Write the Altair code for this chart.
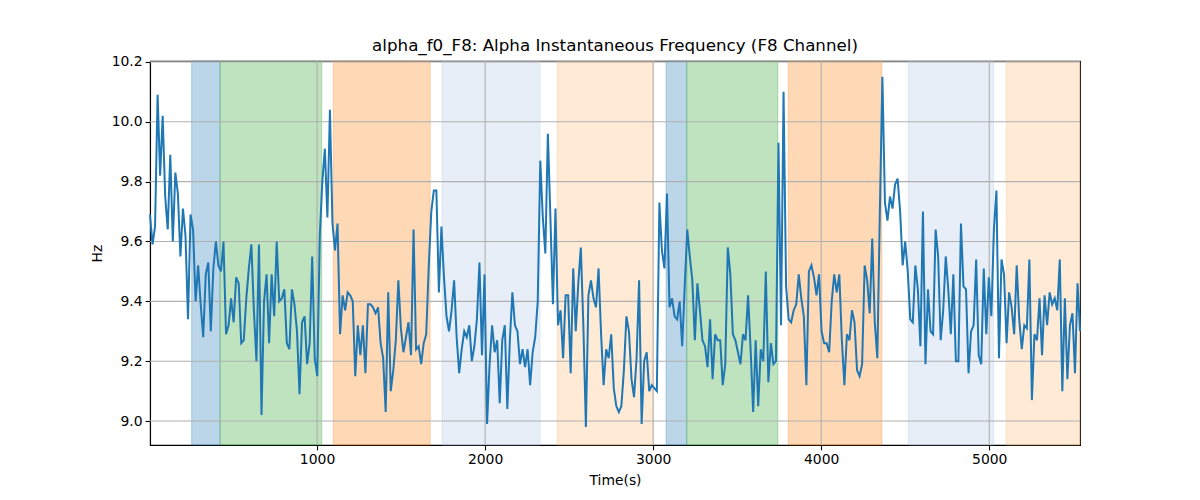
import altair as alt
import pandas as pd

# ---- data ----
start_time = 6.0
time_step = 15.08

alpha_freq = [
    9.69, 9.59, 9.65, 10.09, 9.82, 10.02, 9.75, 9.64, 9.89, 9.60,
    9.83, 9.76, 9.55, 9.71, 9.62, 9.34, 9.69, 9.64, 9.40, 9.52,
    9.39, 9.28, 9.49, 9.53, 9.30, 9.51, 9.60, 9.52, 9.50, 9.60,
    9.29, 9.32, 9.41, 9.33, 9.48, 9.46, 9.26, 9.27, 9.41, 9.51,
    9.59, 9.37, 9.20, 9.59, 9.02, 9.40, 9.49, 9.26, 9.49, 9.35,
    9.60, 9.40,
    9.41, 9.44, 9.26, 9.24, 9.44, 9.39, 9.30, 9.09, 9.33, 9.35,
    9.19, 9.26, 9.55, 9.21, 9.15, 9.62, 9.80, 9.91, 9.68, 10.04,
    9.66, 9.57, 9.66, 9.29, 9.42, 9.37, 9.43, 9.42, 9.40, 9.15,
    9.32, 9.22, 9.32, 9.16, 9.39, 9.39, 9.38, 9.36, 9.38, 9.26,
    9.21, 9.03, 9.43, 9.10, 9.17, 9.27, 9.47, 9.31, 9.23, 9.28,
    9.33, 9.22, 9.64,
    9.24, 9.25, 9.19, 9.26, 9.29, 9.52, 9.70, 9.77, 9.77, 9.43,
    9.65, 9.48, 9.35, 9.30, 9.37, 9.47, 9.28, 9.16, 9.24, 9.30,
    9.28, 9.32, 9.20, 9.25, 9.34, 9.53, 9.22, 9.49, 8.99, 9.19,
    9.32, 9.23, 9.27, 9.06, 9.27, 9.32, 9.04, 9.27, 9.43, 9.32,
    9.30, 9.19, 9.24, 9.18, 9.24, 9.12, 9.23, 9.28, 9.40, 9.87,
    9.68, 9.56, 9.96,
    9.68, 9.39, 9.71, 9.32, 9.37, 9.21, 9.42, 9.42, 9.16, 9.51,
    9.30, 9.46, 9.58, 9.32, 8.98, 9.42, 9.47, 9.41, 9.38, 9.51,
    9.29, 9.12, 9.24, 9.21, 9.29, 9.11, 9.05, 9.03, 9.05, 9.17,
    9.35, 9.30, 9.14, 9.08, 9.21, 9.47, 8.99, 9.20, 9.23, 9.10,
    9.12, 9.11, 9.10, 9.73, 9.57, 9.51, 9.76, 9.38, 9.41, 9.35,
    9.34, 9.40, 9.25,
    9.45, 9.64, 9.55, 9.47, 9.27, 9.46, 9.37, 9.27, 9.25, 9.18,
    9.34, 9.14, 9.29, 9.27, 9.27, 9.12, 9.19, 9.58, 9.49, 9.29,
    9.27, 9.23, 9.19, 9.29, 9.27, 9.42, 9.24, 9.03, 9.27, 9.05,
    9.24, 9.20, 9.50, 9.13, 9.26, 9.19, 9.20, 9.93, 9.32, 10.10,
    9.45, 9.34, 9.33, 9.37, 9.39, 9.49, 9.41, 9.35, 9.12, 9.50,
    9.52, 9.48, 9.42,
    9.49, 9.30, 9.26, 9.26, 9.23, 9.40, 9.49, 9.43, 9.49, 9.27,
    9.12, 9.29, 9.27, 9.37, 9.33, 9.17, 9.15, 9.19, 9.52, 9.47,
    9.36, 9.61, 9.33, 9.21, 9.70, 10.15, 9.73, 9.67, 9.75, 9.71,
    9.79, 9.81, 9.70, 9.52, 9.60, 9.50, 9.34, 9.33, 9.52, 9.44,
    9.25, 9.70, 9.19, 9.44, 9.30, 9.29, 9.64, 9.55, 9.27, 9.37,
    9.55, 9.44, 9.29,
    9.49, 9.20, 9.20, 9.66, 9.45, 9.44, 9.16, 9.30, 9.32, 9.54,
    9.22, 9.19, 9.51, 9.29, 9.48, 9.35, 9.64, 9.77, 9.21, 9.54,
    9.49, 9.26, 9.43, 9.38, 9.29, 9.52, 9.34, 9.24, 9.32, 9.31,
    9.54, 9.07, 9.29, 9.27, 9.41, 9.22, 9.42, 9.32, 9.43, 9.39,
    9.41, 9.37, 9.54, 9.10, 9.41, 9.14, 9.32, 9.36, 9.16, 9.46,
    9.30,
]
times = [start_time + i * time_step for i in range(len(alpha_freq))]

span_starts = [254, 423, 1097, 1744, 2429, 3077, 3200, 3804, 4518, 5101]
span_ends = [423, 1028, 1673, 2327, 3000, 3200, 3742, 4361, 5026, 5540]
span_kinds = ["A", "B", "C", "D", "E", "A", "B", "C", "D", "E"]

x_ticks = [1000, 2000, 3000, 4000, 5000]
y_ticks = [9.0, 9.2, 9.4, 9.6, 9.8, 10.0, 10.2]

x_domain = [6, 5540]
y_domain = [8.92, 10.203]

# ---- tables ----
line_df = pd.DataFrame({"t": times, "hz": alpha_freq})
span_df = pd.DataFrame({"t": span_starts, "end": span_ends, "kind": span_kinds})
xg_df = pd.DataFrame({"t": x_ticks})
yg_df = pd.DataFrame({"hz": y_ticks})

FONT = "DejaVu Sans"
xscale = alt.Scale(domain=x_domain, nice=False, zero=False)
yscale = alt.Scale(domain=y_domain, nice=False, zero=False)
x_axis = alt.Axis(values=x_ticks, format="d", title="Time(s)", grid=False, titlePadding=7)
y_axis = alt.Axis(values=y_ticks, format=".1f", title="Hz", grid=False, titlePadding=7)
span_scale = alt.Scale(
    domain=["A", "B", "C", "D", "E"],
    range=["#1f77b4", "#2ca02c", "#ff7f0e", "#aec7e8", "#ffbb78"],
)

spans = alt.Chart(span_df).mark_rect(fillOpacity=0.3, strokeOpacity=0.3, strokeWidth=1).encode(
    x=alt.X("t:Q", scale=xscale, axis=x_axis),
    x2="end:Q",
    fill=alt.Fill("kind:N", scale=span_scale, legend=None),
    stroke=alt.Stroke("kind:N", scale=span_scale, legend=None),
)

xgrid = alt.Chart(xg_df).mark_rule(color="#b0b0b0", strokeWidth=1.1).encode(
    x=alt.X("t:Q", scale=xscale, axis=x_axis)
)
ygrid = alt.Chart(yg_df).mark_rule(color="#b0b0b0", strokeWidth=1.1).encode(
    y=alt.Y("hz:Q", scale=yscale, axis=y_axis)
)

line = alt.Chart(line_df).mark_line(color="#1f77b4", strokeWidth=2).encode(
    x=alt.X("t:Q", scale=xscale, axis=x_axis),
    y=alt.Y("hz:Q", scale=yscale, axis=y_axis),
)

chart = (
    alt.layer(spans, xgrid, ygrid, line)
    .properties(
        width=930,
        height=384,
        title=alt.TitleParams(
            "alpha_f0_F8: Alpha Instantaneous Frequency (F8 Channel)",
            font=FONT,
            fontSize=16.7,
            fontWeight="normal",
            color="black",
            anchor="middle",
            offset=0,
        ),
        autosize=alt.AutoSizeParams(type="none"),
        padding={"left": 142, "top": 53, "right": 10, "bottom": 50},
    )
    .configure_view(stroke="black", strokeWidth=1.1)
    .configure_axis(
        labelFont=FONT,
        titleFont=FONT,
        labelFontSize=13.9,
        titleFontSize=13.9,
        titleFontWeight="normal",
        labelColor="black",
        titleColor="black",
        tickColor="black",
        domainColor="black",
        tickSize=4.9,
        tickWidth=1.1,
        domainWidth=1.1,
        labelPadding=3,
    )
)

chart.save("out.html", embed_options={"renderer": "svg", "actions": False})
